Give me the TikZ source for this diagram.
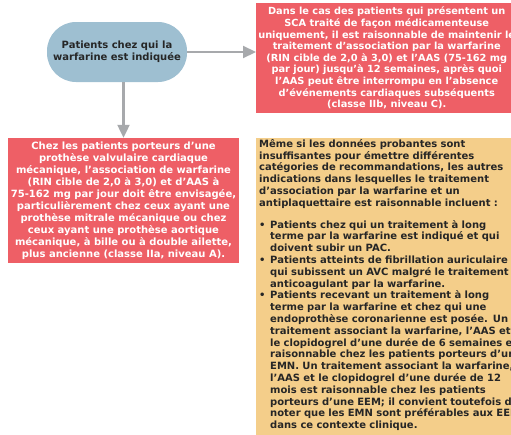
\documentclass[tikz,border=0pt]{standalone}
\usepackage{fontspec}
\setmainfont{DejaVu Sans}
\usetikzlibrary{arrows.meta,positioning}
\definecolor{bleu}{HTML}{9EBFD1}
\definecolor{rouge}{HTML}{EE5F66}
\definecolor{sable}{HTML}{F4CE8A}
\definecolor{gris}{HTML}{A7A9AC}
\definecolor{encre}{HTML}{262626}
\newcommand{\puce}{\makebox[11pt][l]{\textbullet}}
\newcommand{\suite}{\hspace*{11pt}}
\tikzset{
  depart/.style={fill=bleu,rounded corners=29pt,minimum width=140pt,minimum height=60pt,
    align=center,text=encre,font=\fontsize{10}{12.3}\selectfont\bfseries},
  reco/.style={fill=rouge,align=center,text=white,inner sep=0pt,
    font=\fontsize{10}{12}\selectfont\bfseries},
  note/.style={fill=sable,align=left,text=encre,text width=300pt,inner xsep=3pt,inner ysep=1pt,
    font=\fontsize{10}{11.8}\selectfont\bfseries},
  arrow/.style={-{Triangle[length=13pt,width=12pt]},line width=2.2pt,draw=gris}
}
\begin{document}
\begin{tikzpicture}[x=1pt,y=-1pt]
\useasboundingbox (0,0) rectangle (511,434);
\clip (0,0) rectangle (511,434);

\node[depart] (indication) at (117,52) {Patients chez qui la\\warfarine est indiquée};

\node[reco,minimum width=261pt,minimum height=110pt,anchor=west,inner xsep=2pt,
  font=\fontsize{9.8}{11.6}\selectfont\bfseries] (sca) at (256,58)
{Dans le cas des patients qui présentent un\\
SCA traité de façon médicamenteuse\\
uniquement, il est raisonnable de maintenir le\\
traitement d’association par la warfarine\\
(RIN cible de 2,0 à 3,0) et l’AAS (75-162 mg\\
par jour) jusqu’à 12 semaines, après quoi\\
l’AAS peut être interrompu en l’absence\\
d’événements cardiaques subséquents\\
(classe IIb, niveau C).};

\node[reco,minimum width=231pt,minimum height=125pt] (prothese) at (123.5,200.5)
{Chez les patients porteurs d’une\\
prothèse valvulaire cardiaque\\
mécanique, l’association de warfarine\\
(RIN cible de 2,0 à 3,0) et d’AAS à\\
75-162 mg par jour doit être envisagée,\\
particulièrement chez ceux ayant une\\
prothèse mitrale mécanique ou chez\\
ceux ayant une prothèse aortique\\
mécanique, à bille ou à double ailette,\\
plus ancienne (classe IIa, niveau A).};

\node[note,anchor=north west] (autres) at (256,138)
{Même si les données probantes sont\\
insuffisantes pour émettre différentes\\
catégories de recommandations, les autres\\
indications dans lesquelles le traitement\\
d’association par la warfarine et un\\
antiplaquettaire est raisonnable incluent :\\[10pt]
\puce Patients chez qui un traitement à long\\
\suite terme par la warfarine est indiqué et qui\\
\suite doivent subir un PAC.\\
\puce Patients atteints de fibrillation auriculaire\\
\suite qui subissent un AVC malgré le traitement\\
\suite anticoagulant par la warfarine.\\
\puce Patients recevant un traitement à long\\
\suite terme par la warfarine et chez qui une\\
\suite endoprothèse coronarienne est posée. Un\\
\suite traitement associant la warfarine, l’AAS et\\
\suite le clopidogrel d’une durée de 6 semaines est\\
\suite raisonnable chez les patients porteurs d’une\\
\suite EMN. Un traitement associant la warfarine,\\
\suite l’AAS et le clopidogrel d’une durée de 12\\
\suite mois est raisonnable chez les patients\\
\suite porteurs d’une EEM; il convient toutefois de\\
\suite noter que les EMN sont préférables aux EEM\\
\suite dans ce contexte clinique.\rule[-14pt]{0pt}{14pt}};

\draw[arrow] (indication.east) -- (sca.west |- indication.east);
\draw[arrow] (indication.south -| prothese.north) -- (prothese.north);
\end{tikzpicture}
\end{document}
